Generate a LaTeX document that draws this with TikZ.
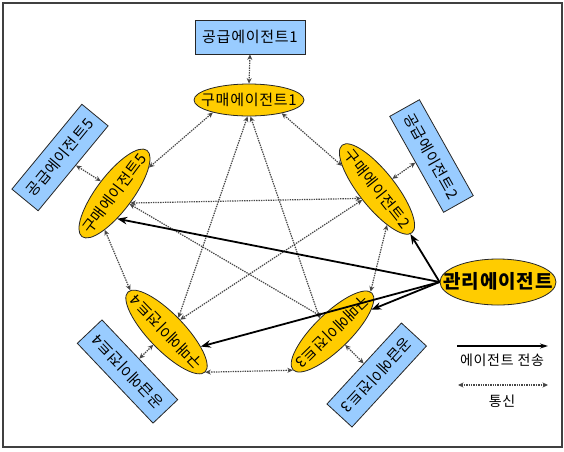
\documentclass[tikz,border=0pt]{standalone}
\usepackage{fontspec}
\newfontfamily\kr[LetterSpace=5]{Noto Sans CJK KR}
\usetikzlibrary{shapes.geometric,arrows.meta}
\definecolor{agentgold}{RGB}{255,204,0}
\definecolor{supplyblue}{RGB}{153,204,255}
% zero-size label so the ellipse keeps its given size
\newcommand\agentlabel[1]{\makebox[0pt]{\raisebox{-0.36em}[0pt][0pt]{#1}}}

\begin{document}
\begin{tikzpicture}[x=1pt,y=1pt,
  buyer/.style={ellipse, draw=black!85, line width=0.8pt, fill=agentgold,
    inner sep=0pt, minimum width=110pt, minimum height=36pt,
    font=\kr\fontsize{15}{15}\selectfont},
  supplier/.style={rectangle, draw=black!85, line width=0.8pt, fill=supplyblue,
    inner sep=0pt, minimum width=110pt, minimum height=34pt,
    font=\kr\fontsize{15}{15}\selectfont},
  comm/.style={draw=black!72, line width=1.2pt, dash pattern=on 1.4pt off 1pt,
    {Stealth[length=5.5pt,width=5pt]}-{Stealth[length=5.5pt,width=5pt]}},
  send/.style={draw=black, line width=1.8pt, -{Stealth[length=10pt,width=7.5pt]}},
  legendtext/.style={font=\kr\fontsize{14}{14}\selectfont, inner sep=0pt},
]
\useasboundingbox (0,0) rectangle (564,-451);
\draw[black!75, line width=1.2pt] (3,-3) rectangle (562,-447);

% supplier agents
\node[supplier] (b1) at (250,-37) {공급에이전트1};
\node[supplier, rotate=-60.7] (b2) at (431.5,-156) {공급에이전트2};
\node[supplier, rotate=-132.6] (b3) at (376.7,-375) {공급에이전트3};
\node[supplier, rotate=133.5] (b4) at (127.5,-371.5) {공급에이전트4};
\node[supplier, rotate=50.5] (b5) at (60,-157.5) {공급에이전트5};

% purchasing agents
\node[buyer, minimum height=32pt] (e1) at (249,-100) {\agentlabel{구매에이전트1}};
\node[buyer, rotate=-51.5, minimum width=112pt] (e2) at (377,-189) {\agentlabel{구매에이전트2}};
\node[buyer, rotate=-135.7] (e3) at (332.5,-331.5) {\agentlabel{구매에이전트3}};
\node[buyer, rotate=134, minimum width=111pt] (e4) at (166.5,-332) {\agentlabel{구매에이전트4}};
\node[buyer, rotate=53, minimum width=108pt] (e5) at (114.5,-193.5) {\agentlabel{구매에이전트5}};

% manager agent
\node[buyer, minimum width=116pt, minimum height=46pt,
  font=\kr\bfseries\fontsize{19}{19}\selectfont] (e0) at (498,-282) {\agentlabel{관리에이전트}};

% communication links
\draw[comm] (b1.south) -- (e1.north);
\draw[comm] (e1.199) -- (e5.-16);
\draw[comm] (e1.-22) -- (e2.198);
\draw[comm] (e1.-95) -- (e4.-84);
\draw[comm] (e1.-85) -- (e3.270);
\draw[comm] (e5.-84) -- (e2.-98);
\draw[comm] (e5.-88) -- (e3.262);
\draw[comm] (e2.268) -- (e4.-92);
\draw[comm] (e5.-158) -- (e4.-3);
\draw[comm] (e2.-23) -- (e3.182);
\draw[comm] (e4.west) -- (e3.east);
\draw[comm] (b5.-77) -- (e5.85);
\draw[comm] (b2.263) -- (e2.85);
\draw[comm] (b4.-86) -- (e4.90);
\draw[comm] (b3.271) -- (e3.89);

% agent dispatch from the manager
\draw[send] (e0.west) -- (e5.-137);
\draw[send] (e0.west) -- (e2.-2);
\draw[send] (e0.west) -- (e4.-157);
\draw[send] (e0.west) -- (e3.165);

% legend
\coordinate (sendA) at (457,-346);
\coordinate (sendB) at (548,-346);
\draw[black, line width=1.2pt, -{Stealth[length=8pt,width=5pt]}] (sendA) -- (sendB);
\node[legendtext] (sendtxt) at (502,-360) {에이전트 전송};
\coordinate (commA) at (458,-385);
\coordinate (commB) at (548,-385);
\draw[comm] (commA) -- (commB);
\node[legendtext] (commtxt) at (502,-401) {통신};
\end{tikzpicture}
\end{document}
